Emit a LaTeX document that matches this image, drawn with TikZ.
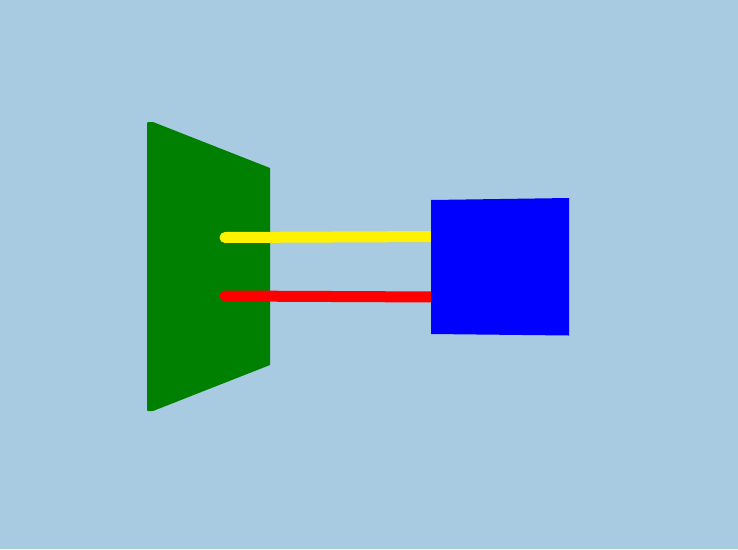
\documentclass[tikz,border=0pt]{standalone}
\definecolor{bgc}{HTML}{A9CBE1}
\definecolor{grn}{HTML}{008000}
\begin{document}
\begin{tikzpicture}[x=1pt,y=-1pt,
  bar/.style={line width=11pt,line cap=round}]
\fill[bgc] (0,0) rectangle (738,549);
\useasboundingbox (0,0) rectangle (738,549);
% green panel
\fill[grn] (147,123) [rounded corners=1pt] -- (147,122) -- (153,122) [sharp corners] -- (270,168) -- (270,365) [rounded corners=1pt] -- (153,411) -- (147,411) [sharp corners] -- (147,410) -- cycle;
% bars
\coordinate (y1) at (225,237.5);
\coordinate (y2) at (440,236.5);
\coordinate (r1) at (225,296);
\coordinate (r2) at (440,297);
\draw[bar,yellow] (y1) -- (y2);
\draw[bar,red] (r1) -- (r2);
% blue panel
\fill[blue] (431,200) -- (569,198) -- (569,335.5) -- (431,334) -- cycle;
\end{tikzpicture}
\end{document}
